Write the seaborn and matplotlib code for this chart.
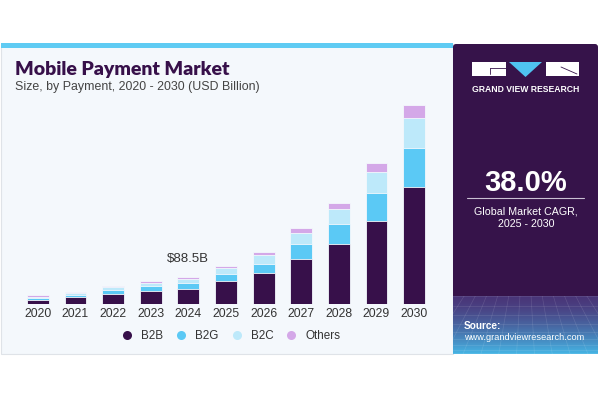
import numpy as np
import pandas as pd
import seaborn as sns
from matplotlib import pyplot as plt
from matplotlib.lines import Line2D
from matplotlib.patches import Rectangle, Polygon, FancyBboxPatch


years = ['2020', '2021', '2022', '2023', '2024', '2025', '2026', '2027', '2028', '2029', '2030']
b2b = [14.5, 22.0, 34.3, 44.3, 51.0, 75.3, 102.0, 148.8, 200.0, 276.4, 390.6]
b2g = [4.5, 6.7, 13.3, 14.3, 17.5, 23.3, 31.5, 50.0, 65.6, 92.2, 129.9]
b2c = [6.0, 6.7, 7.7, 10.0, 13.3, 20.0, 28.5, 39.0, 51.0, 72.3, 99.9]
others = [4.0, 4.4, 3.3, 6.7, 6.7, 9.0, 10.5, 16.7, 21.0, 30.0, 42.3]
segments = ['B2B', 'B2G', 'B2C', 'Others']
colors = ['#37104a', '#5bc9f5', '#bde9fa', '#d4a8e8']

df = pd.DataFrame({'year': years, 'B2B': b2b, 'B2G': b2g, 'B2C': b2c, 'Others': others})

sns.set_theme(style='white')
plt.rcParams['font.family'] = ['Liberation Sans', 'DejaVu Sans']

W, H = 600, 400
fig = plt.figure(figsize=(6, 4), dpi=100)
fig.patch.set_facecolor('white')


def px(x, y, w, h):
    # pixel box (top-left origin) -> figure fraction
    return [x / W, 1 - (y + h) / H, w / W, h / H]


# background card and side panel
bg = fig.add_axes([0, 0, 1, 1])
bg.set_xlim(0, W)
bg.set_ylim(H, 0)
bg.axis('off')
bg.add_patch(Rectangle((1, 44), 452, 310, facecolor='#f4f8fc', edgecolor='#dfe3e8', lw=0.8))
bg.add_patch(Rectangle((1, 43), 452, 4.5, facecolor='#5fcbf3', edgecolor='none'))
bg.add_patch(FancyBboxPatch((453, 44), 145, 310, boxstyle='round,pad=0,rounding_size=3',
                            facecolor='#36134a', edgecolor='none'))

# gradient at the bottom of the side panel
grad = fig.add_axes(px(453, 296, 145, 58))
g = np.linspace(0, 1, 100).reshape(-1, 1)
c0 = np.array([0x4a, 0x35, 0x78]) / 255
c1 = np.array([0x45, 0xb4, 0xe4]) / 255
img = (c0 + (c1 - c0) * g[..., None] ** 1.4).reshape(100, 1, 3)
grad.imshow(img, aspect='auto', extent=[0, 1, 0, 1])
for k in np.linspace(0, 1, 14):
    grad.plot([k, 0.5 + (k - 0.5) * 1.6], [1, 0], color='white', alpha=0.12, lw=0.5)
for k in np.linspace(0.05, 1, 9):
    grad.plot([0, 1], [k ** 1.5, k ** 1.5], color='white', alpha=0.12, lw=0.5)
grad.set_xlim(0, 1)
grad.set_ylim(0, 1)
grad.axis('off')

# logo
bg.add_patch(Rectangle((472, 62), 34, 14, facecolor='white', edgecolor='none'))
bg.add_patch(Polygon([(509, 62), (542, 62), (525.5, 77)], facecolor='#4fc3f0', edgecolor='none'))
bg.add_patch(Rectangle((546, 62), 33, 14, facecolor='white', edgecolor='none'))
bg.plot([490, 506], [68, 68], color='#36134a', lw=0.6)
bg.plot([490, 490], [68, 74], color='#36134a', lw=0.6)
bg.plot([561, 577], [67, 74], color='#36134a', lw=0.6)
bg.text(525.5, 89, 'GRAND VIEW RESEARCH', color='white', fontsize=6.2, fontweight='bold',
        ha='center', va='center')

# CAGR block
bg.text(526, 183, '38.0%', color='white', fontsize=21, fontweight='bold', ha='center', va='center')
bg.plot([467, 584], [198, 198], color='#c9c0d3', lw=0.8)
bg.text(526, 212, 'Global Market CAGR,', color='white', fontsize=7.7, ha='center', va='center')
bg.text(526, 224, '2025 - 2030', color='white', fontsize=7.7, ha='center', va='center')
fig.text(464 / W, 1 - 326 / H, 'Source:', color='white', fontsize=7.2, fontweight='bold',
         ha='left', va='center')
fig.text(464 / W, 1 - 338 / H, 'www.grandviewresearch.com', color='white', fontsize=6.7,
         ha='left', va='center')

# titles
bg.text(15, 69, 'Mobile Payment Market', color='#37104a', fontsize=14, fontweight='heavy',
        family=['Lato', 'Liberation Sans'], ha='left', va='center')
bg.text(15, 87, 'Size, by Payment, 2020 - 2030 (USD Billion)', color='#444444', fontsize=8.9,
        ha='left', va='center')

# stacked bars
ax = fig.add_axes(px(19, 94, 414, 210))
ax.patch.set_alpha(0)
cum = np.zeros(len(years))
layers = []
for seg in segments:
    cum = cum + df[seg].to_numpy()
    layers.append(cum.copy())
for seg, col, tops in reversed(list(zip(segments, colors, layers))):
    sns.barplot(x=df['year'], y=tops, color=col, width=0.58, saturation=1,
                edgecolor='#f4f8fc', linewidth=0.6, ax=ax)
ax.set_xlim(-0.5, 10.5)
ax.set_ylim(0, 700)
ax.set_xlabel('')
ax.set_ylabel('')
ax.set_yticks([])
ax.tick_params(axis='x', length=0, pad=3, labelsize=8.8, labelcolor='#333333')
sns.despine(ax=ax, left=True, bottom=True)

total_2024 = layers[-1][4]
ax.annotate(f'${total_2024:.1f}B', (4, total_2024), xytext=(0, 9), textcoords='offset points',
            ha='center', va='bottom', fontsize=9.5, color='#333333')

handles = [Line2D([], [], marker='o', ls='', markersize=6.5, markerfacecolor=c, markeredgecolor='none')
           for c in colors]
fig.legend(handles, segments, loc='center', bbox_to_anchor=(228 / W, 1 - 336 / H), ncol=4,
           frameon=False, fontsize=8.4, handletextpad=0.2, columnspacing=0.55,
           labelcolor='#333333')

fig.savefig('out.png', dpi=100)
